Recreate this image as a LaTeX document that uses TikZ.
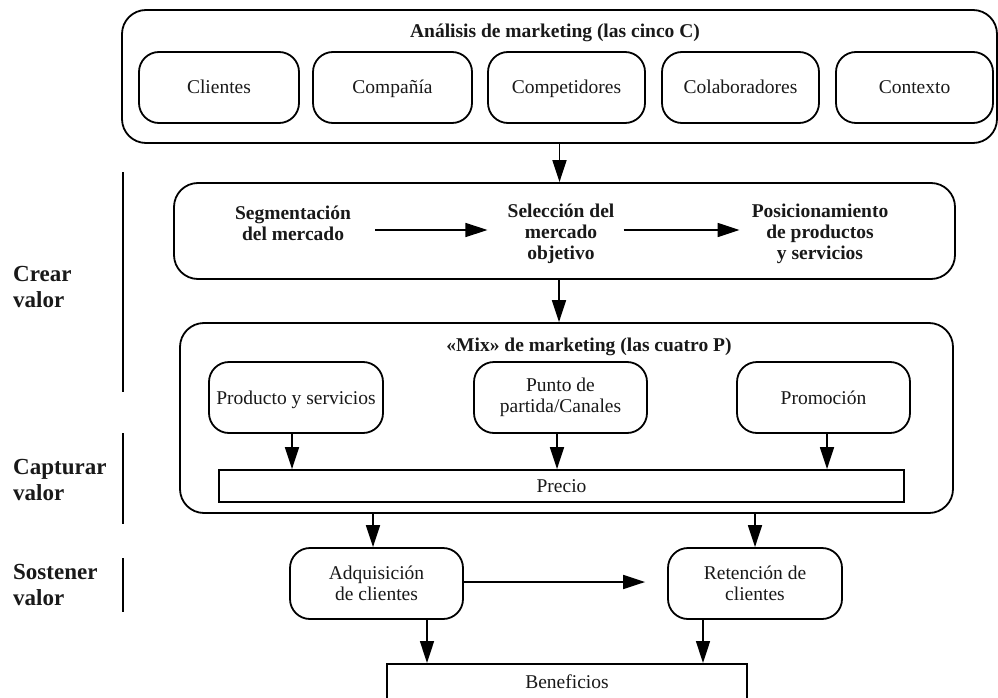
\documentclass[tikz,border=0pt]{standalone}
\usepackage{fontspec}
\setmainfont{Liberation Serif}
\usetikzlibrary{arrows.meta,calc}
\begin{document}
\begin{tikzpicture}[x=1pt,y=-1pt,
  txt/.style={font=\fontsize{19.5}{21}\selectfont, align=center, text=black!90, inner sep=0},
  btxt/.style={txt, font=\fontsize{19.5}{21}\selectfont\bfseries},
  side/.style={font=\fontsize{23}{26}\selectfont\bfseries, align=left, anchor=west, inner sep=0, text=black!90},
  rbox/.style={draw, line width=1.8, rounded corners=20, inner sep=0, txt},
  one/.style={text height=15pt, text depth=2pt},
  bigbox/.style={draw, line width=1.8, rounded corners=24, inner sep=0},
  sqbox/.style={draw, line width=1.8, inner sep=0, txt},
  arr/.style={line width=1.6, -{Triangle[length=22,width=14]}},
  bar/.style={line width=1.8}
]
\clip (0,0) rectangle (998,698);
\fill[white] (0,0) rectangle (998,698);

% top: five C
\node[bigbox, minimum width=875, minimum height=133] (top) at (559.5,76.5) {};
\node[btxt] (ttl) at (555,33) {Análisis de marketing (las cinco C)};
\node[rbox, one, minimum width=160, minimum height=71] (c1) at (219,87.5) {Clientes};
\node[rbox, one, minimum width=159, minimum height=71] (c2) at (392.5,87.5) {Compañía};
\node[rbox, one, minimum width=157, minimum height=71] (c3) at (566.5,87.5) {Competidores};
\node[rbox, one, minimum width=157, minimum height=71] (c4) at (740.5,87.5) {Colaboradores};
\node[rbox, one, minimum width=157, minimum height=71] (c5) at (914.5,87.5) {Contexto};

% STP
\node[bigbox, minimum width=781, minimum height=96] (stp) at (564.5,231) {};
\node[btxt] (seg) at (293,223.5) {Segmentación\\del mercado};
\node[btxt] (sel) at (561,234) {Selección del\\mercado\\objetivo};
\node[btxt] (pos) at (820,234) {Posicionamiento\\de productos\\y servicios};

% mix
\node[bigbox, minimum width=773, minimum height=190] (mix) at (566.5,418) {};
\node[btxt] (mixt) at (589,347) {«Mix» de marketing (las cuatro P)};
\node[rbox, one, minimum width=174, minimum height=71] (prod) at (296,397.5) {Producto y servicios};
\node[rbox, minimum width=173, minimum height=71] (punto) at (560.5,397.5) {Punto de\\partida/Canales};
\node[rbox, one, minimum width=173, minimum height=71] (prom) at (823.5,397.5) {Promoción};
\node[sqbox, one, minimum width=685, minimum height=32] (precio) at (561.5,486) {Precio};

% sustain
\node[rbox, minimum width=173, minimum height=71] (adq) at (376.5,583.5) {Adquisición\\de clientes};
\node[rbox, minimum width=174, minimum height=71] (ret) at (755,583.5) {Retención de\\clientes};
\node[draw, line width=1.8, inner sep=0, minimum width=360, minimum height=70, anchor=north] (ben) at (567,663) {};
\node[txt, one] (bent) at ($(ben.north)+(0,19)$) {Beneficios};

% side labels
\node[side] (crear) at (13,287) {Crear\\valor};
\node[side] (capt) at (13,480) {Capturar\\valor};
\node[side] (sost) at (13,585) {Sostener\\valor};
\draw[bar] (123,172) -- (123,392);
\draw[bar] (123,433) -- (123,524);
\draw[bar] (123,558) -- (123,612);

% arrows
\draw[arr] (top.south) -- (top.south |- stp.north);
\draw[arr] ($(seg.east)+(24,6.5)$) -- ($(seg.east -| sel.west)+(-20,6.5)$);
\draw[arr] ($(sel.east)+(9,-4)$) -- ($(sel.east -| pos.west)+(-12,-4)$);
\draw[arr] ($(stp.south)+(-5.5,0)$) -- ($(stp.south |- mix.north)+(-5.5,0)$);
\draw[arr] ($(prod.south)+(-4,0)$) -- ($(prod.south |- precio.north)+(-4,0)$);
\draw[arr] ($(punto.south)+(-3.5,0)$) -- ($(punto.south |- precio.north)+(-3.5,0)$);
\draw[arr] ($(prom.south)+(3.5,0)$) -- ($(prom.south |- precio.north)+(3.5,0)$);
\draw[arr] ($(adq.north |- mix.south)+(-3.5,0)$) -- ($(adq.north)+(-3.5,0)$);
\draw[arr] (ret.north |- mix.south) -- (ret.north);
\draw[arr, shorten >=22] ($(adq.east)+(0,-1.5)$) -- ($(ret.west)+(0,-1.5)$);
\draw[arr] ($(adq.south)+(50.5,0)$) -- ($(adq.south |- ben.north)+(50.5,0)$);
\draw[arr] ($(ret.south)+(-52,0)$) -- ($(ret.south |- ben.north)+(-52,0)$);
\end{tikzpicture}
\end{document}
